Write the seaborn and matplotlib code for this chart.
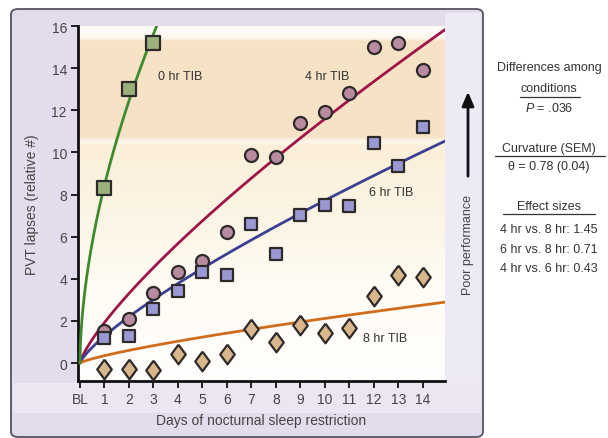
import numpy as np
import pandas as pd
import matplotlib
matplotlib.use("Agg")
import matplotlib.pyplot as plt
import seaborn as sns
from matplotlib.patches import FancyBboxPatch, Rectangle
from matplotlib.lines import Line2D
from matplotlib.colors import to_rgb

# ---------------- data ----------------
days = list(range(1, 15))
days_0hr = [1, 2, 3]
lapses_0hr = [8.3, 13.0, 15.2]
lapses_4hr = [1.5, 2.1, 3.35, 4.3, 4.85, 6.2, 9.9, 9.8, 11.4, 11.9, 12.8, 15.0, 15.2, 13.9]
lapses_6hr = [1.2, 1.3, 2.55, 3.4, 4.3, 4.2, 6.6, 5.2, 7.05, 7.5, 7.45, 10.45, 9.35, 11.2]
lapses_8hr = [-0.3, -0.3, -0.35, 0.45, 0.1, 0.45, 1.6, 1.0, 1.8, 1.45, 1.65, 3.2, 4.2, 4.1]
x_tick_labels = ["BL"] + [str(d) for d in days]
y_ticks = [0, 2, 4, 6, 8, 10, 12, 14, 16]
theta = 0.78
condition_labels = ["0 hr TIB", "4 hr TIB", "6 hr TIB", "8 hr TIB"]

sns.set_theme(style="ticks")
plt.rcParams["font.family"] = ["Liberation Sans", "DejaVu Sans"]
plt.rcParams["mathtext.fontset"] = "custom"
plt.rcParams["mathtext.it"] = "Liberation Sans:italic"
plt.rcParams["mathtext.rm"] = "Liberation Sans"

W, H = 608, 439
fig = plt.figure(figsize=(W / 100, H / 100), dpi=100)
fig.patch.set_facecolor("white")

def fx(px):
    return px / W

def fy(py):
    return 1 - py / H

# panel background
panel = FancyBboxPatch((fx(11), fy(438)), fx(483 - 11), (438 - 10) / H,
                       boxstyle="round,pad=0,rounding_size=0.012",
                       transform=fig.transFigure, fc="#e3dcec", ec="#55535f",
                       lw=1.3, zorder=-3)
fig.patches.append(panel)
fig.patches.append(Rectangle((fx(13), fy(414)), fx(468), (414 - 384) / H,
                             transform=fig.transFigure, fc="#ebe6f2", ec="none", zorder=-2))
fig.patches.append(Rectangle((fx(445), fy(384)), fx(36), (384 - 14) / H,
                             transform=fig.transFigure, fc="#eeeaf5", ec="none", zorder=-2))

ax = fig.add_axes([fx(78), fy(382), fx(445 - 78), (382 - 27) / H])
ax.set_zorder(2)
ax.set_facecolor("none")
xlim = (-0.08, 14.9)
ylim = (-0.85, 16)

# background gradient in plot area
stops = [(16.0, "#fefdfa"), (15.45, "#fdf8ef"), (15.3, "#f6e2c5"),
         (10.75, "#f6e3c7"), (10.55, "#fdf7ec"), (10.3, "#fbefd9"),
         (7.0, "#fcf4e4"), (3.5, "#fffcf5"), (-0.85, "#fffefc")]
ys = np.linspace(ylim[1], ylim[0], 400)
sy = [s[0] for s in stops][::-1]
cols = np.array([to_rgb(s[1]) for s in stops])[::-1]
img = np.stack([np.interp(ys, sy, cols[:, k]) for k in range(3)], axis=-1)
img = np.repeat(img[:, None, :], 2, axis=1)
ax.imshow(img, extent=[xlim[0], xlim[1], ylim[0], ylim[1]], aspect="auto",
          zorder=0, interpolation="bilinear")

# fitted curves (power law with curvature theta)
def power_fit(x, y, th):
    xt = np.power(np.asarray(x, float), th)
    return np.sum(np.asarray(y) * xt) / np.sum(xt * xt)

grid = np.linspace(0, xlim[1], 300)
for ys_, col in [(lapses_4hr, "#9e1548"),
                 (lapses_6hr, "#3b3f8f"),
                 (lapses_8hr, "#cf6d1d")]:
    a = power_fit(days, ys_, theta)
    sns.lineplot(x=grid, y=a * grid ** theta, color=col, lw=2.0, ax=ax, zorder=3)

# 0 hr: log-log fit
p, lna = np.polyfit(np.log(days_0hr), np.log(lapses_0hr), 1)
g0 = np.linspace(0, 3.4, 200)
sns.lineplot(x=g0, y=np.exp(lna) * g0 ** p, color="#3f8a2f", lw=2.0, ax=ax, zorder=3)

edge = "#2e2a2a"
diamond = [(0, 1), (0.74, 0), (0, -1), (-0.74, 0), (0, 1)]
sns.scatterplot(x=days_0hr, y=lapses_0hr, marker="s", s=92, color="#9bb07c",
                edgecolor=edge, linewidth=1.6, ax=ax, zorder=5)
sns.scatterplot(x=days, y=lapses_4hr, marker="o", s=88, color="#b98ba0",
                edgecolor=edge, linewidth=1.6, ax=ax, zorder=5)
sns.scatterplot(x=days, y=lapses_6hr, marker="s", s=80, color="#9a98d2",
                edgecolor=edge, linewidth=1.6, ax=ax, zorder=5)
sns.scatterplot(x=days, y=lapses_8hr, marker=diamond, s=200, color="#d9b78c",
                edgecolor=edge, linewidth=1.6, ax=ax, zorder=5)

txt_kw = dict(fontsize=9, color="#333333", ha="left", va="center", zorder=6)
ax.text(3.2, 13.65, condition_labels[0], **txt_kw)
ax.text(9.18, 13.65, condition_labels[1], **txt_kw)
ax.text(11.8, 8.1, condition_labels[2], **txt_kw)
ax.text(11.55, 1.2, condition_labels[3], **txt_kw)

ax.set_xlim(*xlim)
ax.set_ylim(*ylim)
ax.set_xticks(range(0, 15))
ax.set_xticklabels(x_tick_labels)
ax.set_yticks(y_ticks)
ax.tick_params(axis="both", direction="out", length=5, width=1.3, color="#111111",
               labelsize=10, labelcolor="#444444", pad=3)
for s in ["top", "right"]:
    ax.spines[s].set_visible(False)
for s in ["left", "bottom"]:
    ax.spines[s].set_linewidth(2.0)
    ax.spines[s].set_color("#111111")
ax.spines["left"].set_bounds(ylim[0], 16)
ax.set_xlabel("Days of nocturnal sleep restriction", fontsize=10, color="#444444", labelpad=5)
ax.set_ylabel("PVT lapses (relative #)", fontsize=10, color="#444444", labelpad=9)

# poor performance arrow
fig.text(fx(468), fy(245), "Poor performance", rotation=90, ha="center", va="center",
         fontsize=9, color="#444444", zorder=3)
ax.annotate("", xy=(fx(468), fy(90)), xytext=(fx(468), fy(180)),
            xycoords="figure fraction", textcoords="figure fraction",
            arrowprops=dict(arrowstyle="-|>,head_length=0.7,head_width=0.3",
                            color="#111111", lw=2.0), annotation_clip=False)

# right-side statistics
cx = fx(549)
rk = dict(ha="center", va="center", fontsize=9, color="#333333")
fig.text(cx, fy(68), "Differences among", **rk)
fig.text(cx, fy(89), "conditions", **rk)
fig.text(cx, fy(109), r"$P$ = .036", **rk)
fig.text(cx, fy(149), "Curvature (SEM)", **rk)
fig.text(cx, fy(167), "\u03b8 = 0.78 (0.04)", **rk)
fig.text(cx, fy(207), "Effect sizes", **rk)
fig.text(cx, fy(230), "4 hr vs. 8 hr: 1.45", **rk)
fig.text(cx, fy(250), "6 hr vs. 8 hr: 0.71", **rk)
fig.text(cx, fy(269), "4 hr vs. 6 hr: 0.43", **rk)
for x0, x1, yy in [(520, 580, 98), (495, 605, 157), (503, 595, 215)]:
    fig.add_artist(Line2D([fx(x0), fx(x1)], [fy(yy), fy(yy)], color="#333333", lw=0.9,
                          transform=fig.transFigure))

fig.savefig("out.png", dpi=100)
